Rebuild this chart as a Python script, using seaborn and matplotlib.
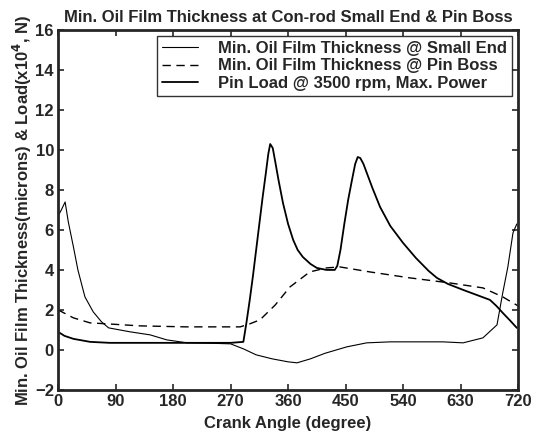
import matplotlib
matplotlib.use("Agg")
import matplotlib.pyplot as plt
import seaborn as sns

# crank angle (deg) / value pairs
small_end_angle = [0, 5, 11, 16, 24, 31, 42, 55, 68, 79, 113, 144, 170, 202, 240, 270, 290,
                   310, 335, 360, 374, 395, 418, 452, 483, 520, 551, 602, 634, 665, 687, 696,
                   704, 712, 718]
small_end_film = [6.7, 7.0, 7.4, 6.4, 5.15, 4.0, 2.65, 1.9, 1.4, 1.1, 0.9, 0.75, 0.5, 0.35,
                  0.33, 0.3, 0.05, -0.25, -0.45, -0.6, -0.65, -0.45, -0.17, 0.15, 0.35, 0.4,
                  0.4, 0.4, 0.35, 0.6, 1.25, 2.85, 4.15, 5.85, 6.3]

pin_boss_angle = [0, 24, 50, 77, 128, 200, 285, 300, 316, 332, 340, 363, 394, 420, 441, 488,
                  551, 613, 665, 696, 712, 720]
pin_boss_film = [2.0, 1.6, 1.35, 1.3, 1.2, 1.15, 1.15, 1.3, 1.5, 2.0, 2.25, 3.15, 3.9, 4.1,
                 4.15, 3.9, 3.6, 3.35, 3.1, 2.65, 2.35, 2.2]

load_angle = [0, 10, 24, 50, 81, 128, 200, 270, 290, 295, 300, 305, 310, 315, 320, 325, 329,
              332, 336, 340, 345, 352, 360, 368, 375, 383, 395, 405, 420, 433, 437, 442, 448,
              454, 460, 465, 469, 473, 478, 485, 492, 504, 520, 540, 560, 580, 593, 610, 634,
              655, 676, 686, 696, 708, 718]
pin_load = [0.9, 0.7, 0.55, 0.4, 0.35, 0.35, 0.35, 0.35, 0.4, 1.4, 2.5, 3.7, 5.0, 6.3, 7.6,
            8.8, 9.8, 10.3, 10.1, 9.4, 8.5, 7.35, 6.3, 5.5, 5.0, 4.65, 4.3, 4.1, 4.0, 4.0, 4.2,
            5.0, 6.3, 7.5, 8.5, 9.3, 9.65, 9.6, 9.3, 8.7, 8.1, 7.15, 6.2, 5.35, 4.6, 3.95, 3.6,
            3.3, 3.0, 2.75, 2.5, 2.2, 1.85, 1.45, 1.1]

sns.set_style("ticks")
plt.rcParams["font.family"] = ["Liberation Sans", "DejaVu Sans"]
plt.rcParams["font.weight"] = "bold"

fig = plt.figure(figsize=(5.33, 4.37), dpi=100)
ax = fig.add_axes([0.109, 0.108, 0.863, 0.823])

sns.lineplot(x=small_end_angle, y=small_end_film, ax=ax, color="black", linewidth=0.8,
             label="Min. Oil Film Thickness @ Small End")
sns.lineplot(x=pin_boss_angle, y=pin_boss_film, ax=ax, color="black", linewidth=1.0,
             label="Min. Oil Film Thickness @ Pin Boss")
ax.lines[-1].set_dashes((6, 4))
sns.lineplot(x=load_angle, y=pin_load, ax=ax, color="black", linewidth=1.3,
             label="Pin Load @ 3500 rpm, Max. Power")

ax.set_xlim(0, 720)
ax.set_ylim(-2, 16)
ax.set_xticks(range(0, 721, 90))
ax.set_yticks(range(-2, 17, 2))
ax.tick_params(direction="in", length=4, width=1.2, top=True, right=True, labelsize=12,
               pad=3)
for s in ax.spines.values():
    s.set_linewidth(2)
    s.set_visible(True)

ax.set_title("Min. Oil Film Thickness at Con-rod Small End & Pin Boss",
             fontsize=12, fontweight="bold", pad=6)
ax.set_xlabel("Crank Angle (degree)", fontsize=12, fontweight="bold", labelpad=5)
ax.set_ylabel("Min. Oil Film Thickness(microns) & Load(x10$^4$, N)", fontsize=12,
              fontweight="bold", labelpad=1)

leg = ax.legend(loc="upper right", fontsize=12, frameon=True, fancybox=False,
                edgecolor="black", borderaxespad=0.35, handlelength=2.2,
                handletextpad=1.2, borderpad=0.3, labelspacing=0.15)
leg.get_frame().set_linewidth(1.0)
for t in leg.get_texts():
    t.set_fontweight("bold")

fig.savefig("out.png", dpi=100)
